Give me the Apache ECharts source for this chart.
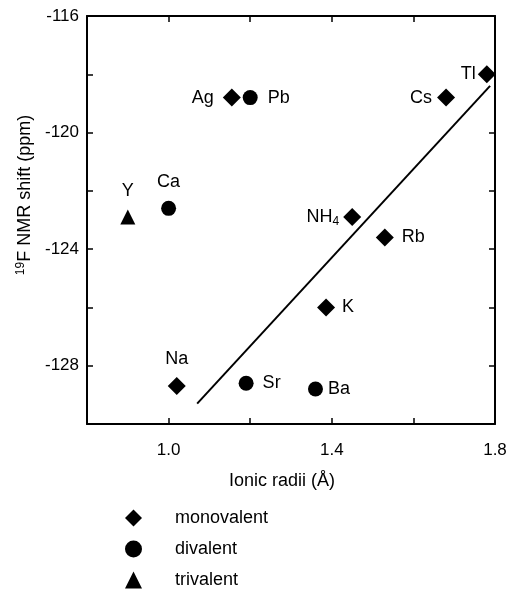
<!DOCTYPE html>
<html>
<head>
<meta charset="utf-8">
<script src="https://cdn.jsdelivr.net/npm/echarts@6/dist/echarts.min.js"></script>
<style>
  html, body { margin: 0; padding: 0; background: #fff; }
  #chart { width: 513px; height: 591px; }
</style>
</head>
<body>
<div id="chart"></div>
<script>
// ionic radius (Å) and 19F shift (ppm)
const monoNames = ["Ag", "Cs", "Tl", "NH4", "Rb", "K", "Na"];
const monoX = [1.155, 1.68, 1.78, 1.45, 1.53, 1.386, 1.02];
const monoY = [-118.8, -118.8, -118.0, -122.9, -123.6, -126.0, -128.7];

const diNames = ["Pb", "Ca", "Sr", "Ba"];
const diX = [1.2, 1.0, 1.19, 1.36];
const diY = [-118.8, -122.6, -128.6, -128.8];

const triNames = ["Y"];
const triX = [0.9];
const triY = [-122.9];

// fitted line end points
const fitX = [1.07, 1.788];
const fitY = [-129.3, -118.4];

// where each element label sits: [position, distance]
const labelPlace = {
  Ag: ["left", 9], Cs: ["left", 5], Tl: ["left", 2], NH4: ["left", 4],
  Rb: ["right", 8], K: ["right", 7], Na: ["top", 9],
  Pb: ["right", 10], Ca: ["top", 10], Sr: ["right", 9], Ba: ["right", 5],
  Y: ["top", 10]
};

const font = "Liberation Sans, Arial, sans-serif";

function pts(xs, ys, names) {
  return xs.map((x, i) => ({
    value: [x, ys[i]],
    name: names[i],
    label: { position: labelPlace[names[i]][0], distance: labelPlace[names[i]][1] }
  }));
}

const chart = echarts.init(document.getElementById("chart"));

const axisLine = { show: true, lineStyle: { color: "#000", width: 2 } };
const axisTick = { show: true, inside: true, length: 6, lineStyle: { color: "#000", width: 1.5 } };
const dot = { color: "#000", opacity: 1 };

const labelCommon = {
  show: true,
  color: "#000",
  fontSize: 18,
  fontFamily: font,
  formatter: p => p.name === "NH4" ? "{a|NH}{b|4}" : p.name,
  rich: {
    a: { fontSize: 18, fontFamily: font, color: "#000" },
    b: { fontSize: 12, fontFamily: font, color: "#000", verticalAlign: "bottom", padding: [10, 0, 0, 0] }
  }
};

chart.setOption({
  animation: false,
  backgroundColor: "#fff",
  textStyle: { fontFamily: font },
  grid: { left: 87, right: 18, top: 16, bottom: 167 },
  legend: {
    orient: "vertical",
    left: 125,
    top: 509,
    padding: 0,
    itemWidth: 17,
    itemHeight: 17,
    itemGap: 13,
    itemStyle: { opacity: 1 },
    textStyle: { fontSize: 18, lineHeight: 17, fontFamily: font, color: "#000", padding: [0, 0, 0, 28] },
    data: [
      { name: "monovalent", icon: "diamond" },
      { name: "divalent", icon: "circle" },
      { name: "trivalent", icon: "triangle" }
    ]
  },
  xAxis: [
    {
      type: "value", min: 0.8, max: 1.8, interval: 0.2,
      name: "Ionic radii (Å)", nameLocation: "middle", nameGap: 48,
      nameTextStyle: { fontSize: 18, fontFamily: font, color: "#000", padding: [0, 18, 0, 0] },
      axisLine, axisTick,
      splitLine: { show: false },
      axisLabel: {
        color: "#000", fontSize: 17, fontFamily: font, margin: 18,
        formatter: v => Math.round(v * 10) % 4 === 2 ? v.toFixed(1) : ""
      }
    },
    {
      type: "value", position: "top", min: 0.8, max: 1.8, interval: 0.2,
      axisLine, axisTick, splitLine: { show: false }, axisLabel: { show: false }
    }
  ],
  yAxis: [
    {
      type: "value", min: -130, max: -116, interval: 2,
      name: "{s|19}{t|F NMR shift (ppm)}", nameLocation: "middle", nameGap: 48,
      nameTextStyle: {
        padding: [0, 0, 0, 50],
        rich: {
          s: { fontSize: 12, fontFamily: font, color: "#000", verticalAlign: "top", padding: [0, 0, 8, 0] },
          t: { fontSize: 18, fontFamily: font, color: "#000" }
        }
      },
      axisLine, axisTick,
      splitLine: { show: false },
      axisLabel: {
        color: "#000", fontSize: 17, fontFamily: font, margin: 8,
        formatter: v => v % 4 === 0 ? String(v) : ""
      }
    },
    {
      type: "value", position: "right", min: -130, max: -116, interval: 2,
      axisLine, axisTick, splitLine: { show: false }, axisLabel: { show: false }
    }
  ],
  series: [
    {
      name: "fit", type: "line", symbol: "none",
      data: fitX.map((x, i) => [x, fitY[i]]),
      lineStyle: { color: "#000", width: 2 }
    },
    {
      name: "monovalent", type: "scatter", symbol: "diamond", symbolSize: 18,
      itemStyle: dot,
      label: labelCommon,
      data: pts(monoX, monoY, monoNames)
    },
    {
      name: "divalent", type: "scatter", symbol: "circle", symbolSize: 15,
      itemStyle: dot,
      label: labelCommon,
      data: pts(diX, diY, diNames)
    },
    {
      name: "trivalent", type: "scatter", symbol: "triangle", symbolSize: 15,
      itemStyle: dot,
      label: labelCommon,
      data: pts(triX, triY, triNames)
    }
  ]
});
</script>
</body>
</html>
